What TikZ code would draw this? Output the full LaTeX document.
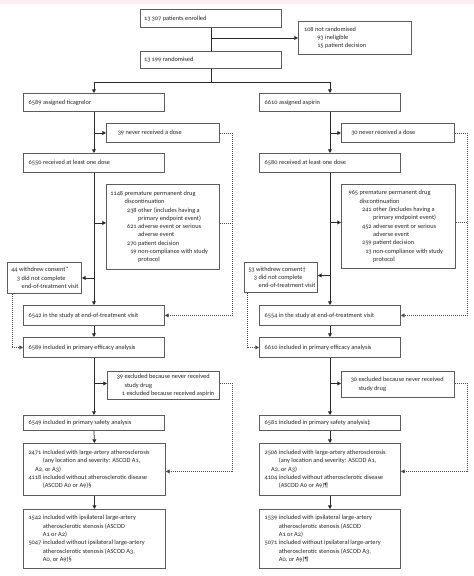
\documentclass[tikz,border=0pt]{standalone}
\usepackage{fontspec}
\setmainfont{Carlito}[Numbers=OldStyle]
\usetikzlibrary{arrows.meta}
\definecolor{boxc}{HTML}{5C5C5C}
\definecolor{linec}{HTML}{2A2A2A}
\definecolor{txtc}{HTML}{262626}
\definecolor{dotc}{HTML}{4A4A4A}
\definecolor{pinkc}{HTML}{FBEEF2}
\newcommand\fs{\fontsize{6.35bp}{8.3bp}\selectfont}
\newcommand\R[2]{\makebox[#1bp][r]{#2}\ }
% name, x, y, w, h, pad, text
\newcommand\mkbox[7]{%
  \node[box, minimum width=#4bp, minimum height=#5bp] (#1) at (#2,#3) {};
  \node[txt] (#1t) at ([xshift=#6bp]#1.west) {#7};}
\tikzset{
  x=1bp, y=-1bp,
  box/.style={draw=boxc, line width=0.9bp, anchor=north west, inner sep=0pt},
  txt/.style={anchor=west, align=left, inner sep=0pt, font=\fs, text=txtc},
  conn/.style={draw=linec, line width=0.75bp},
  arr/.style={-{Triangle[length=3.6bp,width=3.8bp]}},
  dots/.style={draw=dotc, line width=0.75bp, dash pattern=on 0.75bp off 1.25bp},
}
\begin{document}
\begin{tikzpicture}
\useasboundingbox (0,0) rectangle (474,576);
\fill[white] (0,0) rectangle (474,576);
\fill[pinkc] (0,0) rectangle (474,4);

% top
\mkbox{A}{140}{9}{141}{18}{4}{13\,307 patients enrolled}
\mkbox{B}{298}{21}{113}{33}{3}{\R{12.5}{108}not randomised\\ \R{22.5}{93}ineligible\\ \R{22.5}{15}patient decision}
\mkbox{C}{140}{51}{141}{17}{4}{13\,199 randomised}

% left column
\mkbox{D}{23}{93}{141}{18}{5.5}{6589 assigned ticagrelor}
\mkbox{E}{106}{123}{113}{19}{3}{\R{15}{39}never received a dose}
\mkbox{F}{23}{153}{141}{19}{5.5}{6550 received at least one dose}
\mkbox{G}{106}{184}{113}{85}{3}{\R{14}{1148}premature permanent drug\\
\R{14}{}discontinuation\\
\R{27.5}{238}other (includes having a\\
\R{27.5}{}primary endpoint event)\\
\R{27.5}{621}adverse event or serious\\
\R{27.5}{}adverse event\\
\R{27.5}{270}patient decision\\
\R{27.5}{19}non-compliance with study\\
\R{27.5}{}protocol}
\mkbox{H}{7}{262}{74}{31}{2}{\R{8.5}{44}withdrew consent*\\ \R{11}{3}did not complete\\ \R{11}{}end-of-treatment visit}
\mkbox{I}{23}{305}{141}{20}{5.5}{6542 in the study at end-of-treatment visit}
\mkbox{J}{23}{337}{141}{20}{5.5}{6589 included in primary efficacy analysis}
\mkbox{K}{107}{371}{112}{28}{3}{\R{13}{39}excluded because never received\\ \R{13}{}study drug\\ \R{15}{1}excluded because received aspirin}
\mkbox{L}{23}{415}{141}{15}{5.5}{6549 included in primary safety analysis}
\mkbox{M}{23}{443}{142}{52}{5.5}{\R{12.7}{2471}included with large-artery atherosclerosis\\
\R{12.7}{}(any location and severity: ASCOD A1,\\
\hspace*{6.5bp}A2, or A3)\\
\R{12.7}{4118}included without atherosclerotic disease\\
\R{12.7}{}(ASCOD A0 or A9)\S}
\mkbox{N}{23}{509}{142}{59}{5.5}{\R{12.7}{1542}included with ipsilateral large-artery\\
\R{12.7}{}atherosclerotic stenosis (ASCOD\\
\R{12.7}{}A1 or A2)\\
\R{12.7}{5047}included without ipsilateral large-artery\\
\R{12.7}{}atherosclerotic stenosis (ASCOD A3,\\
\R{12.7}{}A0, or A9)\S}

% right column
\mkbox{Dr}{259}{93}{141}{18}{5.5}{6610 assigned aspirin}
\mkbox{Er}{341}{123}{113}{19}{3}{\R{13.5}{30}never received a dose}
\mkbox{Fr}{259}{153}{141}{19}{5.5}{6580 received at least one dose}
\mkbox{Gr}{341}{184}{114}{84}{3}{\R{14}{965}premature permanent drug\\
\R{14}{}discontinuation\\
\R{27.5}{241}other (includes having a\\
\R{27.5}{}primary endpoint event)\\
\R{27.5}{452}adverse event or serious\\
\R{27.5}{}adverse event\\
\R{27.5}{259}patient decision\\
\R{27.5}{13}non-compliance with study\\
\R{27.5}{}protocol}
\mkbox{Hr}{244}{262}{73}{30}{2}{\R{8.5}{53}withdrew consent\dag\\ \R{11}{3}did not complete\\ \R{11}{}end-of-treatment visit}
\mkbox{Ir}{259}{305}{141}{20}{5.5}{6554 in the study at end-of-treatment visit}
\mkbox{Jr}{259}{337}{141}{20}{5.5}{6610 included in primary efficacy analysis}
\mkbox{Kr}{341}{371}{113}{26}{3}{\R{13}{30}excluded because never received\\ \R{13}{}study drug}
\mkbox{Lr}{259}{415}{141}{15}{5.5}{6581 included in primary safety analysis\ddag}
\mkbox{Mr}{259}{443}{141}{52}{5.5}{\R{12.7}{2506}included with large-artery atherosclerosis\\
\R{12.7}{}(any location and severity: ASCOD A1,\\
\hspace*{6.5bp}A2, or A3)\\
\R{12.7}{4104}included without atherosclerotic disease\\
\R{12.7}{}(ASCOD A0 or A9)\P}
\mkbox{Nr}{259}{509}{141}{59}{5.5}{\R{12.7}{1539}included with ipsilateral large-artery\\
\R{12.7}{}atherosclerotic stenosis (ASCOD\\
\R{12.7}{}A1 or A2)\\
\R{12.7}{5071}included without ipsilateral large-artery\\
\R{12.7}{}atherosclerotic stenosis (ASCOD A3,\\
\R{12.7}{}A0, or A9)\P}

% helper coordinates
\coordinate (split) at ([yshift=-13bp]C.south);
\coordinate (lx) at (232,0);
\coordinate (rx) at (467,0);

% solid connectors
\draw[conn] (A.south) -- (C.north);
\draw[conn,arr] (A.south |- B.west) -- (B.west);
\draw[conn] (C.south) -- (split);
\draw[conn,arr] (split) -| (D.north);
\draw[conn,arr] (split) -| (Dr.north);

\draw[conn,arr] (D.south) -- (F.north);
\draw[conn,arr] (D.south |- E.west) -- (E.west);
\draw[conn,arr] (F.south) -- (I.north);
\draw[conn,arr] ([yshift=4bp]G.west -| F.south) -- ([yshift=4bp]G.west);
\draw[conn,arr] (H.east -| F.south) -- (H.east);
\draw[conn,arr] (I.south) -- (J.north);
\draw[conn,arr] (J.south) -- (L.north);
\draw[conn,arr] ([yshift=2bp]K.west -| J.south) -- ([yshift=2bp]K.west);
\draw[conn,arr] (L.south) -- (M.north);
\draw[conn,arr] (M.south) -- (N.north);

\draw[conn,arr] (Dr.south) -- (Fr.north);
\draw[conn,arr] (Dr.south |- Er.west) -- (Er.west);
\draw[conn,arr] (Fr.south) -- (Ir.north);
\draw[conn,arr] ([yshift=4bp]Gr.west -| Fr.south) -- ([yshift=4bp]Gr.west);
\draw[conn,arr] ([yshift=2bp]Hr.east -| Fr.south) -- ([yshift=2bp]Hr.east);
\draw[conn,arr] (Ir.south) -- (Jr.north);
\draw[conn,arr] (Jr.south) -- (Lr.north);
\draw[conn,arr] ([yshift=1bp]Kr.west -| Jr.south) -- ([yshift=1bp]Kr.west);
\draw[conn,arr] (Lr.south) -- (Mr.north);
\draw[conn,arr] (Mr.south) -- (Nr.north);

% dotted connectors
\draw[dots,arr] (E.east) -- (E.east -| lx) |- (I.east);
\draw[dots] ([yshift=4bp]G.east) -- ([yshift=4bp]G.east -| lx);
\draw[dots,arr] ([xshift=5bp]H.south west) |- (J.west);
\draw[dots,arr] ([yshift=2bp]K.east) -- ([yshift=2bp]K.east -| lx) |- ([yshift=-2bp]M.east);

\draw[dots,arr] (Er.east) -- (Er.east -| rx) |- (Ir.east);
\draw[dots] ([yshift=4bp]Gr.east) -- ([yshift=4bp]Gr.east -| rx);
\draw[dots,arr] ([xshift=3bp]Hr.south west) |- (Jr.west);
\draw[dots,arr] ([yshift=1bp]Kr.east) -- ([yshift=1bp]Kr.east -| rx) |- ([yshift=-2bp]Mr.east);
\end{tikzpicture}
\end{document}
